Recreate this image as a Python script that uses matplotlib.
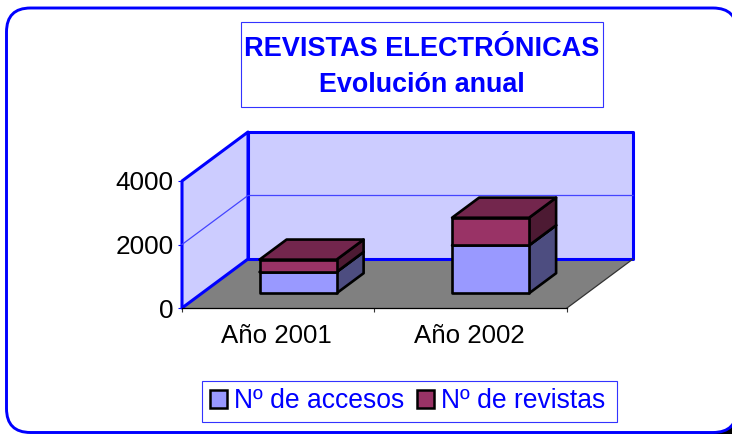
import matplotlib
matplotlib.use("Agg")
import matplotlib.pyplot as plt
from matplotlib.patches import FancyBboxPatch, Polygon, Rectangle, Patch
from matplotlib.transforms import ScaledTranslation

plt.rcParams['font.family'] = ['Liberation Sans', 'DejaVu Sans']

years = ["Año 2001", "Año 2002"]
accesos = [670, 1510]
revistas = [390, 870]
y_ticks = [0, 2000, 4000]

BLUE = "#0000FF"
ACC_FRONT, ACC_SIDE, ACC_TOP = "#9999FF", "#4D4D80", "#73738F"
REV_FRONT, REV_SIDE, REV_TOP = "#993366", "#4D1A33", "#73264D"

# depth of the fake 3d box, in data units of the main axes
DX = 66 / 192.5
DY = 49 * 4000 / 127
BAR_W = 0.4
D0, D1 = 0.3, 0.71


def pt(x, v, d):
    return (x + d * DX, v + d * DY)


def box(ax, x0, x1, v0, v1, front, side, top, z):
    ec = dict(edgecolor="black", linewidth=1.9, joinstyle="round", clip_on=False, zorder=z)
    ax.add_patch(Polygon([pt(x1, v0, D0), pt(x1, v0, D1), pt(x1, v1, D1), pt(x1, v1, D0)], facecolor=side, **ec))
    ax.add_patch(Polygon([pt(x0, v1, D0), pt(x1, v1, D0), pt(x1, v1, D1), pt(x0, v1, D1)], facecolor=top, **ec))
    ax.add_patch(Polygon([pt(x0, v0, D0), pt(x1, v0, D0), pt(x1, v1, D0), pt(x0, v1, D0)], facecolor=front, **ec))


fig = plt.figure(figsize=(7.32, 4.34), dpi=100)

# page furniture in pixel coordinates
bg = fig.add_axes([0, 0, 1, 1])
bg.set_xlim(0, 732)
bg.set_ylim(434, 0)
bg.axis("off")
bg.add_patch(Rectangle((700, 405), 40, 35, fc="black", ec="none"))
bg.add_patch(FancyBboxPatch((6.5, 8), 730.5, 424.5, boxstyle="round,pad=0,rounding_size=24",
                            fc="white", ec=BLUE, lw=2.1))
bg.add_patch(Rectangle((241, 22), 362, 85, fc="white", ec="#3333FF", lw=0.8))
bg.text(422, 49.5, "REVISTAS ELECTRÓNICAS", color=BLUE, fontsize=19.5, fontweight="bold", ha="center", va="center")
bg.text(422, 84.5, "Evolución anual", color=BLUE, fontsize=19.4, fontweight="bold", ha="center", va="center")
bg.add_patch(Rectangle((202, 380.5), 415, 41.5, fc="white", ec="#3333FF", lw=0.8))

ax = fig.add_axes([182 / 732, (434 - 308) / 434, 385 / 732, 127 / 434])
ax.patch.set_alpha(0)
ax.set_xlim(0, len(years))
ax.set_ylim(0, 4000)

top = y_ticks[-1]
n = len(years)
wall = dict(facecolor="#CCCCFF", edgecolor=BLUE, linewidth=2.2, joinstyle="round", clip_on=False, zorder=1)
ax.add_patch(Polygon([pt(0, 0, 0), pt(n, 0, 0), pt(n, 0, 1), pt(0, 0, 1)],
                     facecolor="#808080", edgecolor="none", clip_on=False, zorder=1))
ax.add_patch(Polygon([pt(0, 0, 1), pt(n, 0, 1), pt(n, top, 1), pt(0, top, 1)], **wall))
ax.add_patch(Polygon([pt(0, 0, 0), pt(0, 0, 1), pt(0, top, 1), pt(0, top, 0)], **wall))
ax.plot(*zip(pt(n, 0, 0), pt(n, 0, 1)), color="#333333", lw=0.9, clip_on=False, zorder=2)
for v in y_ticks[1:-1]:
    ax.plot(*zip(pt(0, v, 0), pt(0, v, 1), pt(n, v, 1)), color="#4444FF", lw=0.9, clip_on=False, zorder=2)

for i in range(n):
    x0 = i + 0.5 - BAR_W / 2
    x1 = i + 0.5 + BAR_W / 2
    box(ax, x0, x1, accesos[i], accesos[i] + revistas[i], REV_FRONT, REV_SIDE, REV_TOP, 4 + 2 * i)
    box(ax, x0, x1, 0, accesos[i], ACC_FRONT, ACC_SIDE, ACC_TOP, 3.5 + 2 * i)

for s in ("left", "top", "right"):
    ax.spines[s].set_visible(False)
ax.spines["bottom"].set_color("black")
ax.spines["bottom"].set_linewidth(0.9)
ax.spines["bottom"].set_zorder(3)
ax.set_yticks(y_ticks)
ax.set_xticks(range(n + 1))
ax.set_xticks([i + 0.5 for i in range(n)], years, minor=True)
ax.tick_params(axis="x", which="major", labelbottom=False, length=3, width=0.8, color="#333333")
ax.tick_params(axis="x", which="minor", length=0, labelsize=18.6, pad=11.5)
ax.tick_params(axis="y", labelsize=18.8, length=3, width=0.8, color=BLUE, pad=3)
# the labels sit a touch left of the category centres
nudge = ScaledTranslation(-1.5 / 100, 0, fig.dpi_scale_trans)
for lab in ax.get_xticklabels(minor=True):
    lab.set_transform(lab.get_transform() + nudge)

handles = [Patch(facecolor=ACC_FRONT, edgecolor="black", linewidth=1.8, label="Nº de accesos"),
           Patch(facecolor=REV_FRONT, edgecolor="black", linewidth=1.8, label="Nº de revistas")]
leg = fig.legend(handles=handles, ncol=2, loc="center left", bbox_to_anchor=(209.5 / 732, (434 - 401) / 434),
                 fontsize=19.1, labelcolor=BLUE, frameon=False,
                 handlelength=0.66, handleheight=0.66, handletextpad=0.27, columnspacing=0.46,
                 borderpad=0, borderaxespad=0)

fig.savefig("out.png", dpi=100)
